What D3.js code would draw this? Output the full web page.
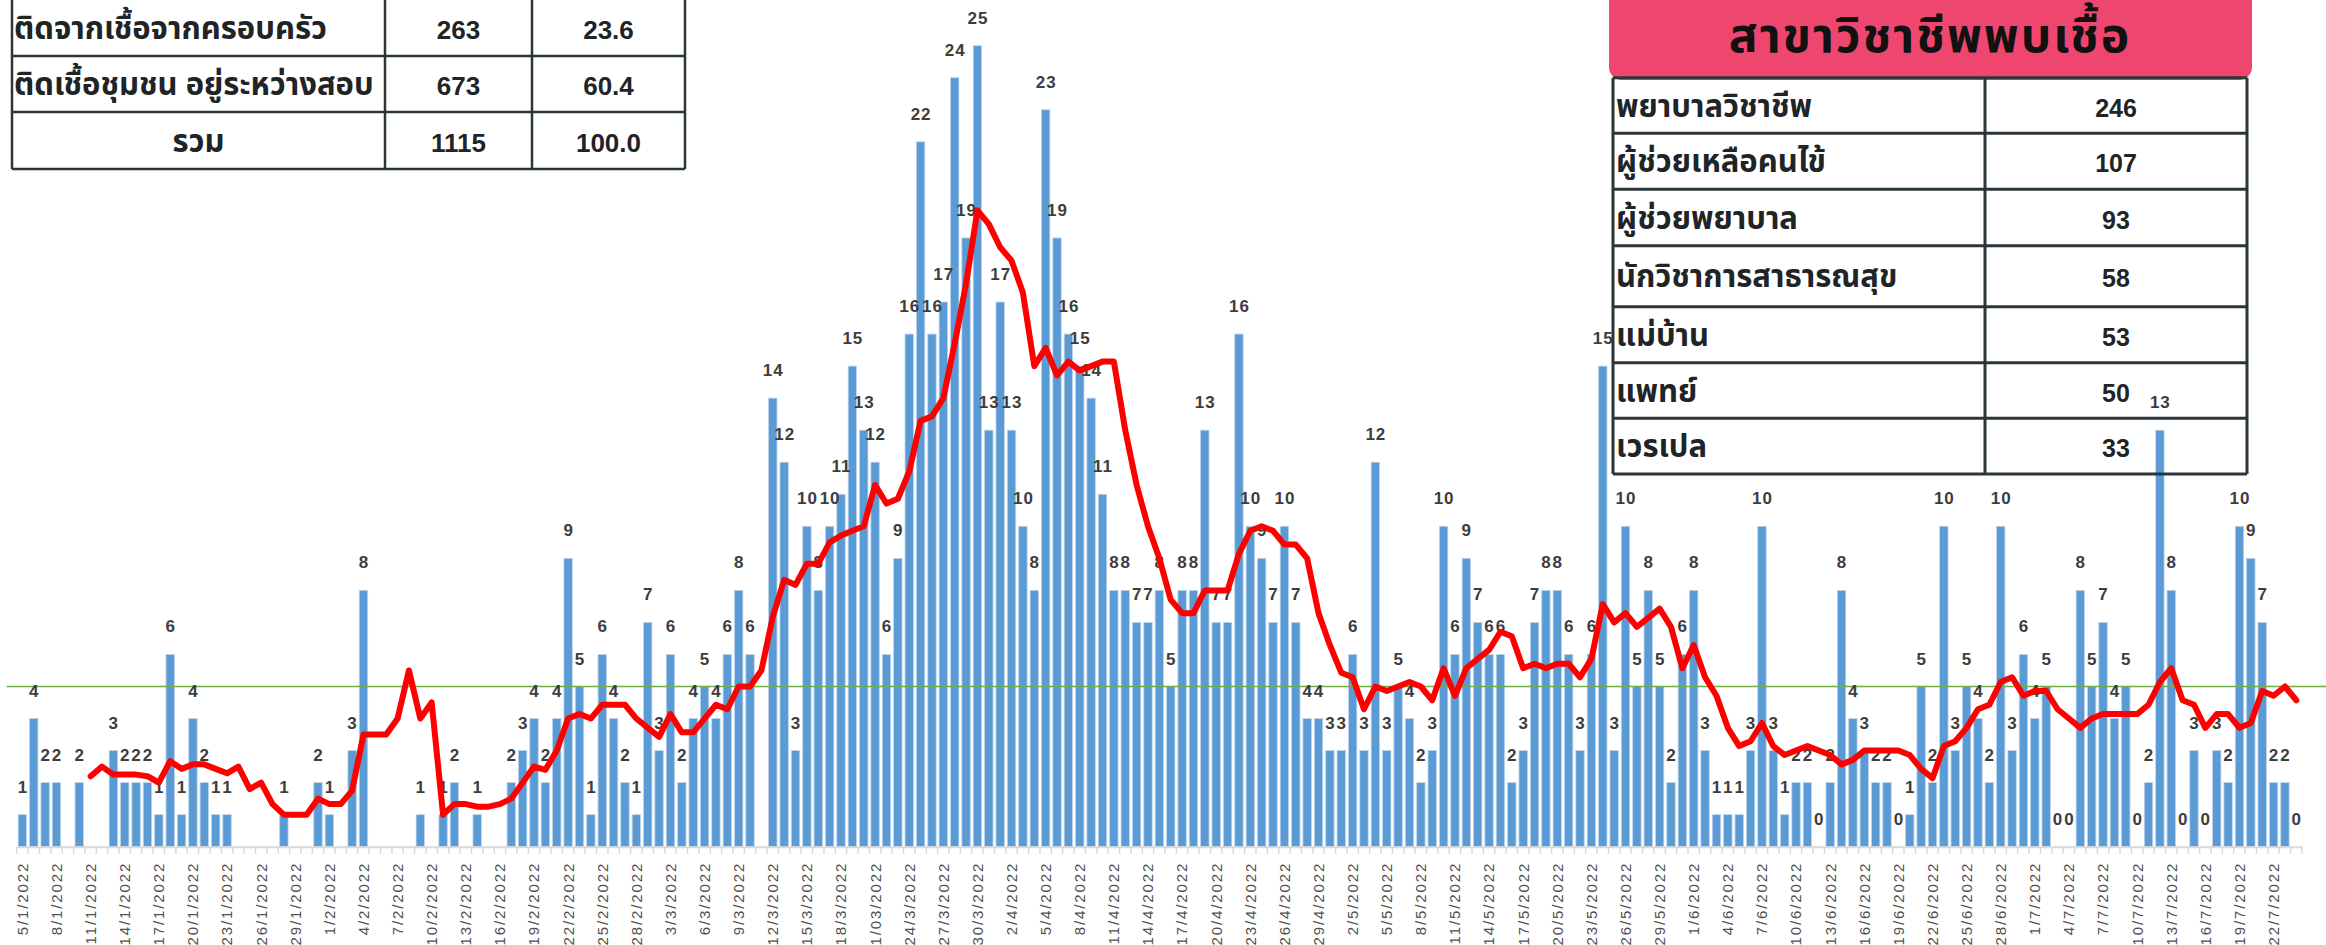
<!DOCTYPE html>
<html><head><meta charset="utf-8">
<script src="https://cdn.jsdelivr.net/npm/d3@7"></script>
<style>
html,body{margin:0;padding:0;background:#fff;}
svg{display:block;}
</style></head><body>
<svg id="chart" width="2326" height="945"></svg>
<script>
// ---------- DATA ----------
const categories = [
"5/1","6/1","7/1","8/1","9/1","10/1","11/1","12/1","13/1","14/1","15/1","16/1","17/1","18/1","19/1","20/1","21/1","22/1","23/1","24/1","25/1","26/1","27/1","28/1","29/1","30/1","31/1",
"1/2","2/2","3/2","4/2","5/2","6/2","7/2","8/2","9/2","10/2","11/2","12/2","13/2","14/2","15/2","16/2","17/2","18/2","19/2","20/2","21/2","22/2","23/2","24/2","25/2","26/2","27/2","28/2",
"1/3","2/3","3/3","4/3","5/3","6/3","7/3","8/3","9/3","10/3","11/3","12/3","13/3","14/3","15/3","16/3","17/3","18/3","19/3","20/3","21/3","22/3","23/3","24/3","25/3","26/3","27/3","28/3","29/3","30/3","31/3",
"1/4","2/4","3/4","4/4","5/4","6/4","7/4","8/4","9/4","10/4","11/4","12/4","13/4","14/4","15/4","16/4","17/4","18/4","19/4","20/4","21/4","22/4","23/4","24/4","25/4","26/4","27/4","28/4","29/4","30/4",
"1/5","2/5","3/5","4/5","5/5","6/5","7/5","8/5","9/5","10/5","11/5","12/5","13/5","14/5","15/5","16/5","17/5","18/5","19/5","20/5","21/5","22/5","23/5","24/5","25/5","26/5","27/5","28/5","29/5","30/5","31/5",
"1/6","2/6","3/6","4/6","5/6","6/6","7/6","8/6","9/6","10/6","11/6","12/6","13/6","14/6","15/6","16/6","17/6","18/6","19/6","20/6","21/6","22/6","23/6","24/6","25/6","26/6","27/6","28/6","29/6","30/6",
"1/7","2/7","3/7","4/7","5/7","6/7","7/7","8/7","9/7","10/7","11/7","12/7","13/7","14/7","15/7","16/7","17/7","18/7","19/7","20/7","21/7","22/7","23/7","24/7"
];

const tickLabels = [
"5/1/2022","8/1/2022","11/1/2022","14/1/2022","17/1/2022","20/1/2022","23/1/2022","26/1/2022","29/1/2022",
"1/2/2022","4/2/2022","7/2/2022","10/2/2022","13/2/2022","16/2/2022","19/2/2022","22/2/2022","25/2/2022","28/2/2022",
"3/3/2022","6/3/2022","9/3/2022","12/3/2022","15/3/2022","18/3/2022","21/03/2022","24/3/2022","27/3/2022","30/3/2022",
"2/4/2022","5/4/2022","8/4/2022","11/4/2022","14/4/2022","17/4/2022","20/4/2022","23/4/2022","26/4/2022","29/4/2022",
"2/5/2022","5/5/2022","8/5/2022","11/5/2022","14/5/2022","17/5/2022","20/5/2022","23/5/2022","26/5/2022","29/5/2022",
"1/6/2022","4/6/2022","7/6/2022","10/6/2022","13/6/2022","16/6/2022","19/6/2022","22/6/2022","25/6/2022","28/6/2022",
"1/7/2022","4/7/2022","7/7/2022","10/7/2022","13/7/2022","16/7/2022","19/7/2022","22/7/2022"
];

// daily cases (null = no record that day)
const cases = [
1,4,2,2,null,2,null,null,3,2,
2,2,1,6,1,4,2,1,1,null,
null,null,null,1,null,null,2,1,null,3,
8,null,null,null,null,1,null,1,2,null,
1,null,null,2,3,4,2,4,9,5,
1,6,4,2,1,7,3,6,2,4,
5,4,6,8,6,null,14,12,3,10,
8,10,11,15,13,12,6,9,16,22,
16,17,24,19,25,13,17,13,10,8,
23,19,16,15,14,11,8,8,7,7,
8,5,8,8,13,7,7,16,10,9,
7,10,7,4,4,3,3,6,3,12,
3,5,4,2,3,10,6,9,7,6,
6,2,3,7,8,8,6,3,6,15,
3,10,5,8,5,2,6,8,3,1,
1,1,3,10,3,1,2,2,0,2,
8,4,3,2,2,0,1,5,2,10,
3,5,4,2,10,3,6,4,5,0,
0,8,5,7,4,5,0,2,13,8,
0,3,0,3,2,10,9,7,2,2,
0
];

// red trend line (7-day average as drawn)
const movingAvg = [
null,null,null,null,null,null,2.2,2.5,2.25,2.25,
2.25,2.2,2.0,2.67,2.43,2.57,2.57,2.43,2.29,2.5,
1.8,2.0,1.33,1.0,1.0,1.0,1.5,1.33,1.33,1.75,
3.5,3.5,3.5,4.0,5.5,4.0,4.5,1.0,1.33,1.33,
1.25,1.25,1.33,1.5,2.0,2.5,2.4,3.0,4.0,4.14,
4.0,4.43,4.43,4.43,4.0,3.71,3.43,4.14,3.57,3.57,
4.0,4.43,4.29,5.0,5.0,5.5,7.17,8.33,8.17,8.83,
8.83,9.5,9.71,9.86,10.0,11.29,10.71,10.86,11.71,13.29,
13.43,14.0,15.71,17.57,19.86,19.43,18.71,18.29,17.29,15.0,
15.57,14.71,15.14,14.86,15.0,15.14,15.14,13.0,11.29,10.0,
9.0,7.71,7.29,7.29,8.0,8.0,8.0,9.14,9.86,10.0,
9.86,9.43,9.43,9.0,7.29,6.29,5.43,5.29,4.29,5.0,
4.86,5.0,5.14,5.0,4.57,5.57,4.71,5.57,5.86,6.14,
6.71,6.57,5.57,5.71,5.57,5.71,5.71,5.29,5.86,7.57,
7.0,7.29,6.86,7.14,7.43,6.86,5.57,6.29,5.29,4.71,
3.71,3.14,3.29,3.86,3.14,2.86,3.0,3.14,3.0,2.86,
2.57,2.71,3.0,3.0,3.0,3.0,2.86,2.43,2.14,3.14,
3.29,3.71,4.29,4.43,5.14,5.29,4.71,4.86,4.86,4.29,
4.0,3.71,4.0,4.14,4.14,4.14,4.14,4.43,5.14,5.57,
4.57,4.43,3.71,4.14,4.14,3.71,3.86,4.86,4.71,5.0,
4.57
];

const refValue = 5;

const sourceLabels = ["ติดจากเชื้อจากครอบครัว", "ติดเชื้อชุมชน อยู่ระหว่างสอบ", "รวม"];
const sourceCounts = ["263", "673", "1115"];
const sourcePercents = ["23.6", "60.4", "100.0"];

const profTitle = "สาขาวิชาชีพพบเชื้อ";
const professions = ["พยาบาลวิชาชีพ", "ผู้ช่วยเหลือคนไข้", "ผู้ช่วยพยาบาล", "นักวิชาการสาธารณสุข", "แม่บ้าน", "แพทย์", "เวรเปล"];
const profCounts = [246, 107, 93, 58, 53, 50, 33];

// ---------- CHART ----------
const W = 2326, H = 945;
const svg = d3.select("#chart");
const thaiFont = "'Noto Sans Thai','Tahoma','Loma','Garuda','Sarabun','DejaVu Sans',sans-serif";
const numFont = "'Liberation Sans',Arial,Helvetica,sans-serif";

const x = d3.scaleBand().domain(categories).range([16.7, 2302]).paddingInner(0.26).paddingOuter(0.13);
const y = d3.scaleLinear().domain([0, 25]).range([846.7, 45.7]);
const cx = c => x(c) + x.bandwidth() / 2;
const pts = categories.map((c, i) => ({c, v: cases[i], m: movingAvg[i]}));
const tickValues = categories.filter((d, i) => i % 3 === 0);

// bars
svg.append("g").selectAll("rect")
  .data(pts.filter(d => d.v != null && d.v > 0))
  .join("rect")
  .attr("x", d => x(d.c)).attr("width", x.bandwidth())
  .attr("y", d => y(d.v)).attr("height", d => y(0) - y(d.v))
  .attr("fill", "#5b9bd5").attr("stroke", "#bcd5ee").attr("stroke-width", 0.8);

// axis
const axisG = svg.append("g").attr("transform", `translate(0,${y(0)})`)
  .call(d3.axisBottom(x).tickValues(tickValues)
    .tickFormat(d => tickLabels[tickValues.indexOf(d)])
    .tickSize(0).tickSizeOuter(0));
axisG.select(".domain").attr("stroke", "#d9d9d9").attr("stroke-width", 2);
axisG.selectAll(".tick text")
  .attr("transform", "rotate(-90)").attr("x", -15).attr("y", 0).attr("dy", "0.36em")
  .attr("text-anchor", "end").attr("fill", "#505050")
  .style("font-family", numFont).style("font-size", "15px").style("letter-spacing", "1.9px");

// category boundary ticks
svg.append("g").selectAll("line")
  .data(d3.range(categories.length + 1))
  .join("line")
  .attr("x1", i => x.range()[0] + i * x.step()).attr("x2", i => x.range()[0] + i * x.step())
  .attr("y1", y(0)).attr("y2", y(0) + 7)
  .attr("stroke", "#d9d9d9").attr("stroke-width", 1.5);

// reference line
svg.append("line")
  .attr("x1", x.range()[0] - 10).attr("x2", W)
  .attr("y1", y(refValue)).attr("y2", y(refValue))
  .attr("stroke", "#70ad47").attr("stroke-width", 1.3);

// value labels
svg.append("g").selectAll("text")
  .data(pts.filter(d => d.v != null))
  .join("text")
  .attr("x", d => cx(d.c) + 0.5).attr("y", d => y(d.v) - 22)
  .attr("text-anchor", "middle")
  .attr("fill", "#3d3d3d")
  .style("font-family", numFont).style("font-weight", "bold").style("font-size", "17px")
  .style("letter-spacing", "1px")
  .text(d => d.v);

// trend line
svg.append("path").datum(pts)
  .attr("d", d3.line().defined(d => d.m != null).x(d => cx(d.c)).y(d => y(d.m)))
  .attr("fill", "none").attr("stroke", "#ff0000").attr("stroke-width", 6)
  .attr("stroke-linejoin", "round").attr("stroke-linecap", "round");

// ---------- LEFT TABLE ----------
const lt = svg.append("g");
const ltCols = [12, 385, 532, 685];
const ltRows = [0, 56, 112, 169];
const borderCol = "#2b363b";
ltCols.forEach(xx => lt.append("line").attr("x1", xx).attr("x2", xx).attr("y1", 0).attr("y2", 169)
  .attr("stroke", borderCol).attr("stroke-width", 2.5));
ltRows.slice(1).forEach(yy => lt.append("line").attr("x1", 12).attr("x2", 685).attr("y1", yy).attr("y2", yy)
  .attr("stroke", borderCol).attr("stroke-width", 2.5));
sourceLabels.forEach((t, i) => {
  const base = (ltRows[i] + ltRows[i + 1]) / 2 + 11;
  lt.append("text").attr("x", i === 2 ? (ltCols[0] + ltCols[1]) / 2 : 14).attr("y", base)
    .attr("text-anchor", i === 2 ? "middle" : "start")
    .attr("fill", "#1f2427").style("font-family", thaiFont).style("font-weight", "bold").style("font-size", "31px")
    .text(t);
  lt.append("text").attr("x", (ltCols[1] + ltCols[2]) / 2).attr("y", base)
    .attr("text-anchor", "middle").attr("fill", "#1f2427")
    .style("font-family", numFont).style("font-weight", "bold").style("font-size", "26px").text(sourceCounts[i]);
  lt.append("text").attr("x", (ltCols[2] + ltCols[3]) / 2).attr("y", base)
    .attr("text-anchor", "middle").attr("fill", "#1f2427")
    .style("font-family", numFont).style("font-weight", "bold").style("font-size", "26px").text(sourcePercents[i]);
});

// ---------- RIGHT TABLE ----------
const rt = svg.append("g");
rt.append("rect").attr("x", 1609).attr("y", -20).attr("width", 643).attr("height", 100).attr("rx", 13)
  .attr("fill", "#ef4670");
rt.append("text").attr("x", 1930).attr("y", 52).attr("text-anchor", "middle")
  .attr("fill", "#111").style("font-family", thaiFont).style("font-weight", "bold").style("font-size", "48px")
  .style("letter-spacing", "2px")
  .text(profTitle);
const rtCols = [1613, 1985, 2247];
const rtRows = [77.7, 133.3, 189.3, 245.7, 306.7, 362.7, 418.3, 474];
rtCols.forEach(xx => rt.append("line").attr("x1", xx).attr("x2", xx).attr("y1", rtRows[0]).attr("y2", rtRows[rtRows.length - 1])
  .attr("stroke", borderCol).attr("stroke-width", 3));
rtRows.forEach(yy => rt.append("line").attr("x1", rtCols[0]).attr("x2", rtCols[2]).attr("y1", yy).attr("y2", yy)
  .attr("stroke", borderCol).attr("stroke-width", 3));
professions.forEach((t, i) => {
  const base = (rtRows[i] + rtRows[i + 1]) / 2 + 11;
  rt.append("text").attr("x", 1616).attr("y", base)
    .attr("fill", "#1f2427").style("font-family", thaiFont).style("font-weight", "bold").style("font-size", "31px")
    .text(t);
  rt.append("text").attr("x", (rtCols[1] + rtCols[2]) / 2).attr("y", base)
    .attr("text-anchor", "middle").attr("fill", "#1f2427")
    .style("font-family", numFont).style("font-weight", "bold").style("font-size", "25px")
    .text(profCounts[i]);
});
</script>
</body></html>
